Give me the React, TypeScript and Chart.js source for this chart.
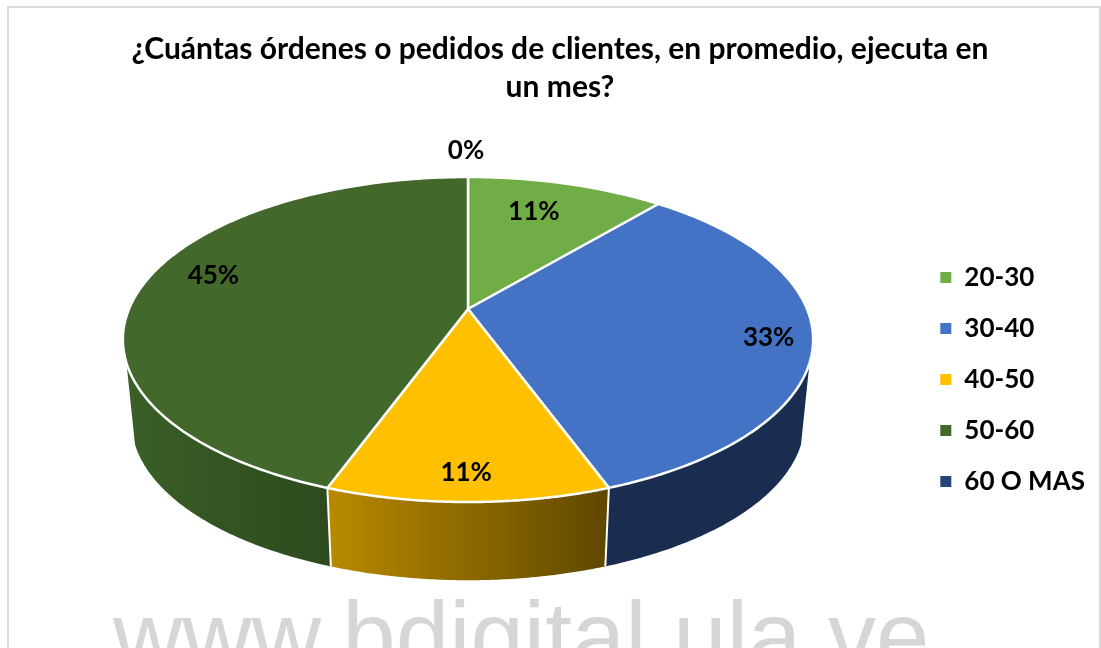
import React, { useEffect, useRef } from "react";
import { Chart, registerables } from "chart.js";

Chart.register(...registerables);

const categories = ["20-30", "30-40", "40-50", "50-60", "60 O MAS"];
const shares = [11.11, 33.33, 11.11, 44.45, 0];
const shareLabels = ["11%", "33%", "11%", "45%", "0%"];
const sliceColors = ["#70AD47", "#4472C4", "#FFC000", "#43682B", "#264478"];
const wallLeft = ["#5f9339", "#1a2d50", "#b98a00", "#3a5f27", "#1f3864"];
const wallRight = ["#4a7030", "#1a2d50", "#5f4700", "#2d4a1e", "#1f3864"];
const titleLines = ["¿Cuántas órdenes o pedidos de clientes, en promedio, ejecuta en", "un mes?"];
const watermark = "www.bdigital.ula.ve";

// Perspective of the tilted disc
const CX = 468;
const CY = 309;
const A = 339;
const B = 156.8;
const K = 0.1877;
const DEPTH = 83;
const SHRINK = 0.975;
const VISIBLE_SIN = 0.323;
const LEGEND_SHIFT = 40;

// radial position and nudge of each data label
const labelRadius = [0.75, 0.875, 0.874, 0.782, 1.243];
const labelDx = [-11, 0, -2, 0, -2];
const labelDy = [0, 4, 0, -13, 0];

function project(angle: number, r = 1) {
  const X = Math.cos(angle) * r;
  const Y = Math.sin(angle) * r;
  const d = 1 - K * Y;
  return { x: CX + (A * X) / d, y: CY + (B * Y) / d };
}
function projectBottom(angle: number) {
  const p = project(angle);
  return { x: CX + (p.x - CX) * SHRINK, y: CY + DEPTH + (p.y - CY) * SHRINK };
}

const disc3d = {
  id: "disc3d",
  afterLayout(chart: any) {
    chart.legend.top += LEGEND_SHIFT;
    chart.legend.bottom += LEGEND_SHIFT;
  },
  beforeDraw(chart: any) {
    const ctx = chart.ctx;
    ctx.save();
    ctx.strokeStyle = "#d9d9d9";
    ctx.lineWidth = 2;
    ctx.strokeRect(8, 7, 1092, 700);
    ctx.fillStyle = "#d6d6d6";
    ctx.font = '96px "Liberation Sans"';
    ctx.textAlign = "left";
    ctx.textBaseline = "alphabetic";
    ctx.fillText(watermark, 113, 669);
    ctx.restore();
  },
  beforeDatasetsDraw(chart: any) {
    const ctx = chart.ctx;
    const arcs = chart.getDatasetMeta(0).data;
    const lo = Math.asin(VISIBLE_SIN);
    const hi = Math.PI - lo;
    ctx.save();
    arcs.forEach((arc: any, i: number) => {
      const s = Math.max(arc.startAngle, lo);
      const e = Math.min(arc.endAngle, hi);
      if (e <= s) return;
      const steps = 80;
      const top: any[] = [];
      const bottom: any[] = [];
      for (let n = 0; n <= steps; n++) {
        const a = s + ((e - s) * n) / steps;
        top.push(project(a));
        bottom.push(projectBottom(a));
      }
      const xs = top.concat(bottom).map((p) => p.x);
      const g = ctx.createLinearGradient(Math.min(...xs), 0, Math.max(...xs), 0);
      g.addColorStop(0, wallLeft[i]);
      g.addColorStop(1, wallRight[i]);
      ctx.beginPath();
      top.forEach((p, n) => (n ? ctx.lineTo(p.x, p.y) : ctx.moveTo(p.x, p.y)));
      bottom.reverse().forEach((p) => ctx.lineTo(p.x, p.y));
      ctx.closePath();
      ctx.fillStyle = g;
      ctx.fill();
    });
    // white seams between the wall segments
    ctx.strokeStyle = "#ffffff";
    ctx.lineWidth = 2;
    arcs.forEach((arc: any) => {
      const a = arc.endAngle;
      if (a > lo && a < hi && arc.endAngle > arc.startAngle) {
        const p = project(a);
        const q = projectBottom(a);
        ctx.beginPath();
        ctx.moveTo(p.x, p.y);
        ctx.lineTo(q.x, q.y);
        ctx.stroke();
      }
    });
    // top face
    arcs.forEach((arc: any, i: number) => {
      if (arc.endAngle <= arc.startAngle) return;
      const steps = 160;
      ctx.beginPath();
      ctx.moveTo(CX, CY);
      for (let n = 0; n <= steps; n++) {
        const p = project(arc.startAngle + ((arc.endAngle - arc.startAngle) * n) / steps);
        ctx.lineTo(p.x, p.y);
      }
      ctx.closePath();
      ctx.fillStyle = sliceColors[i];
      ctx.fill();
      ctx.lineJoin = "round";
      ctx.strokeStyle = "#ffffff";
      ctx.lineWidth = 2.5;
      ctx.stroke();
    });
    // data labels
    ctx.fillStyle = "#000000";
    ctx.font = "bold 26px Lato";
    ctx.textAlign = "center";
    ctx.textBaseline = "middle";
    arcs.forEach((arc: any, i: number) => {
      const p = project((arc.startAngle + arc.endAngle) / 2, labelRadius[i]);
      ctx.fillText(shareLabels[i], p.x + labelDx[i], p.y + labelDy[i]);
    });
    ctx.restore();
    return false; // the disc above replaces the flat arcs
  },
};

export default function App() {
  const ref = useRef<HTMLCanvasElement>(null);
  useEffect(() => {
    const chart = new Chart(ref.current as HTMLCanvasElement, {
      type: "pie",
      data: {
        labels: categories,
        datasets: [{ data: shares, backgroundColor: sliceColors, borderWidth: 0 }],
      },
      plugins: [disc3d],
      options: {
        responsive: false,
        animation: false,
        layout: { padding: { left: 25, right: 6, top: 31, bottom: 0 } },
        plugins: {
          tooltip: { enabled: false },
          title: {
            display: true,
            text: titleLines,
            color: "#000000",
            font: { family: "Lato", weight: "bold", size: 30, lineHeight: 1.25 },
            padding: { top: 0, bottom: 10 },
          },
          legend: {
            position: "right",
            labels: {
              color: "#000000",
              font: { family: "Lato", weight: "bold", size: 26 },
              boxWidth: 11,
              boxHeight: 11,
              padding: 25,
            },
          },
        },
      },
    } as any);
    return () => chart.destroy();
  }, []);
  return (
    <canvas
      ref={ref}
      width={1101}
      height={648}
      style={{ position: "fixed", left: 0, top: 0, display: "block", width: 1101, height: 648 }}
    />
  );
}
